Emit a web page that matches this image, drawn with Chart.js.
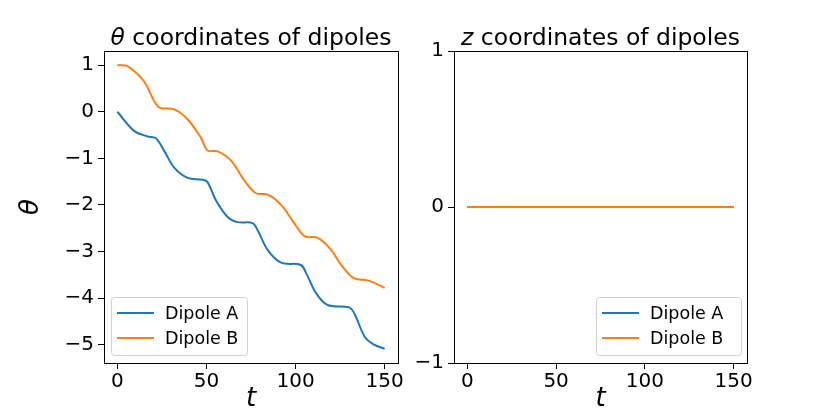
<!DOCTYPE html>
<html><head><meta charset="utf-8">
<script src="https://cdn.jsdelivr.net/npm/chart.js@4"></script>
<style>
body{margin:0;background:#fff;width:830px;height:415px;overflow:hidden}
.box{position:absolute;top:0;width:415px;height:415px}
</style></head><body>
<div class="box" style="left:0"><canvas id="thetaChart"></canvas></div>
<div class="box" style="left:415px"><canvas id="zChart"></canvas></div>
<script>
// valores
const tA = [0, 9.4, 16.9, 21.6, 26.3, 31.9, 39.4, 47.8, 50.6, 55.3, 61.9, 67.5, 75.9, 78.8, 84.4, 91.9, 103, 106, 111.6, 118, 130, 133, 138.8, 144, 150];
const thetaA = [0, -0.41, -0.53, -0.57, -0.84, -1.2, -1.42, -1.46, -1.51, -1.9, -2.26, -2.37, -2.39, -2.55, -2.97, -3.24, -3.29, -3.47, -3.9, -4.15, -4.2, -4.33, -4.83, -5.0, -5.09];
const tB = [0, 5.6, 15, 20.6, 24, 31.9, 39.4, 46.9, 50.6, 56.3, 63.8, 71.3, 77.8, 84.4, 91.9, 99.4, 105, 112.5, 120, 125.6, 133, 140.6, 150];
const thetaB = [1, 0.98, 0.65, 0.23, 0.085, 0.05, -0.16, -0.56, -0.83, -0.85, -1.05, -1.48, -1.75, -1.78, -2.0, -2.4, -2.67, -2.71, -2.97, -3.29, -3.58, -3.62, -3.78];
const tZ = [0, 150];
const zA = [0, 0];
const zB = [0, 0];
const xTicks = [0, 50, 100, 150];
const thetaTicks = [1, 0, -1, -2, -3, -4, -5];
const zTicks = [1, 0, -1];
const seriesNames = ['Dipole A', 'Dipole B'];
const colors = ['#1f77b4', '#ff7f0e'];

const pts = (xs, ys) => xs.map((x, i) => ({x: x, y: ys[i]}));
const fmt = v => (v < 0 ? '\u2212' + Math.abs(v) : String(v));
const FONT = '"DejaVu Sans", sans-serif';

// desenha moldura, título, rótulos dos eixos e legenda
function decor(opts) {
    return {
        id: 'decor',
        afterDraw(chart) {
            const c = chart.ctx, a = chart.chartArea;
            c.save();
            c.strokeStyle = '#000'; c.lineWidth = 1;
            c.strokeRect(a.left + 0.5, a.top + 0.5, a.right - a.left, a.bottom - a.top);
            c.fillStyle = '#000'; c.textBaseline = 'alphabetic';
            // título
            const cx = (a.left + a.right) / 2;
            c.font = 'italic 23.5px ' + FONT;
            const w1 = c.measureText(opts.sym).width;
            c.font = '23.5px ' + FONT;
            const w2 = c.measureText(opts.rest).width;
            let x0 = cx - (w1 + w2) / 2;
            c.textAlign = 'left';
            c.font = 'italic 23.5px ' + FONT; c.fillText(opts.sym, x0, 45);
            c.font = '23.5px ' + FONT; c.fillText(opts.rest, x0 + w1, 45);
            // eixo x
            c.textAlign = 'center';
            c.font = 'italic 26px ' + FONT;
            c.fillText('t', cx, 406);
            // eixo y
            c.save();
            c.translate(opts.yLabelX, (a.top + a.bottom) / 2);
            c.rotate(-Math.PI / 2);
            c.fillText(opts.sym, 0, 0);
            c.restore();
            // legenda
            const lx = opts.legendX, lw = opts.legendW, ly = 297;
            c.strokeStyle = '#d0d0d0'; c.lineWidth = 1;
            c.fillStyle = 'rgba(255,255,255,0.8)';
            c.beginPath(); c.roundRect(lx + 0.5, ly + 0.5, lw, 58, 3); c.fill(); c.stroke();
            c.font = '17.5px ' + FONT; c.textAlign = 'left'; c.textBaseline = 'middle';
            seriesNames.forEach((n, i) => {
                const yy = ly + 16 + i * 25;
                c.strokeStyle = colors[i]; c.lineWidth = 2;
                c.beginPath(); c.moveTo(lx + 6, yy); c.lineTo(lx + 43, yy); c.stroke();
                c.fillStyle = '#000'; c.fillText(n, lx + 54, yy + 1);
            });
            c.restore();
        }
    };
}

function makeChart(id, dsA, dsB, yMin, yMax, yTicks, yWidth, padRight, opts) {
    const ds = [dsA, dsB].map((d, i) => ({
        label: seriesNames[i], data: d, borderColor: colors[i], borderWidth: 2,
        pointRadius: 0, tension: 0.35, fill: false, order: 1 - i
    }));
    const tickFont = {family: FONT, size: 20};
    return new Chart(document.getElementById(id), {
        type: 'line',
        data: {datasets: ds},
        options: {
            responsive: true, maintainAspectRatio: false, animation: false,
            layout: {padding: {top: 51, right: padRight, left: 0, bottom: 0}},
            plugins: {legend: {display: false}, tooltip: {enabled: false}},
            scales: {
                x: {
                    type: 'linear', min: -7.5, max: 157.5,
                    afterBuildTicks: s => { s.ticks = xTicks.map(v => ({value: v})); },
                    afterFit: s => { s.height = 52; },
                    ticks: {color: '#000', font: tickFont, padding: 1, maxRotation: 0, callback: fmt},
                    grid: {drawOnChartArea: false, drawTicks: true, tickLength: 6, color: '#000'},
                    border: {display: false}
                },
                y: {
                    type: 'linear', min: yMin, max: yMax,
                    afterBuildTicks: s => { s.ticks = yTicks.map(v => ({value: v})); },
                    afterFit: s => { s.width = yWidth; },
                    ticks: {color: '#000', font: tickFont, padding: 4, callback: fmt},
                    grid: {drawOnChartArea: false, drawTicks: true, tickLength: 6, color: '#000'},
                    border: {display: false}
                }
            }
        },
        plugins: [decor(opts)]
    });
}

makeChart('thetaChart', pts(tA, thetaA), pts(tB, thetaB), -5.395, 1.305, thetaTicks, 104, 17,
    {sym: '\u03b8', rest: ' coordinates of dipoles', yLabelX: 38, legendX: 111, legendW: 136});
makeChart('zChart', pts(tZ, zA), pts(tZ, zB), -1, 1, zTicks, 39, 83,
    {sym: 'z', rest: ' coordinates of dipoles', yLabelX: -2, legendX: 596 - 415, legendW: 145});
</script>
</body></html>
